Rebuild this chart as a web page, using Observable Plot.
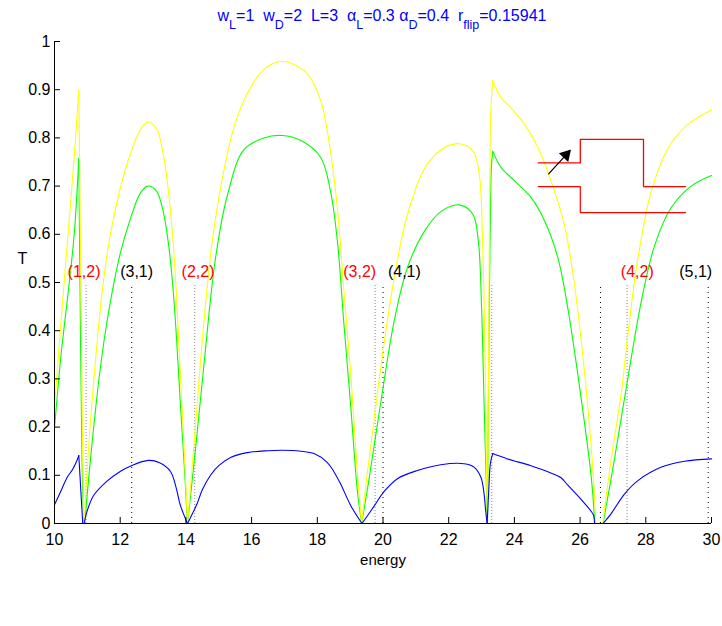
<!DOCTYPE html>
<html>
<head>
<meta charset="utf-8">
<script src="https://cdn.jsdelivr.net/npm/d3@7"></script>
<script src="https://cdn.jsdelivr.net/npm/@observablehq/plot@0.6"></script>
<style>
  html, body { margin: 0; padding: 0; background: #fff; }
  #chart { width: 722px; height: 626px; }
</style>
</head>
<body>
<div id="chart"></div>
<script>
// ---------- data (energy, T) ----------
const yellowSegs = [
  [[10,0.239],[10.2,0.42],[10.4,0.59],[10.6,0.76],[10.74,0.90]],
  [[10.74,0.90],[10.80,0.52],[10.85,0.2],[10.89,0]],
  [[10.9,0],[11.04,0.16],[11.2,0.3],[11.45,0.48],[11.7,0.6],[12.0,0.695],[12.3,0.765],[12.6,0.815],[12.84,0.833],
   [13.1,0.82],[13.3,0.77],[13.45,0.70],[13.58,0.61],[13.7,0.49],[13.83,0.31],[13.95,0.15],[14.05,0]],
  [[14.05,0],[14.3,0.21],[14.55,0.42],[14.8,0.585],[15.15,0.73],[15.56,0.843],[16.17,0.926],[16.6,0.953],[16.93,0.959],
   [17.3,0.952],[17.7,0.933],[18.1,0.878],[18.35,0.795],[18.61,0.656],[18.81,0.483],[19.02,0.31],[19.22,0.103],[19.35,0]],
  [[19.35,0],[19.52,0.103],[19.83,0.27],[20.13,0.42],[20.49,0.565],[20.74,0.64],[21.25,0.735],[21.76,0.775],[22.32,0.788],
   [22.73,0.774],[22.93,0.725],[23.03,0.587],[23.1,0.38],[23.15,0.103],[23.18,0]],
  [[23.18,0],[23.21,0.3],[23.25,0.7],[23.28,0.85],[23.34,0.919]],
  [[23.34,0.919],[23.59,0.884],[23.9,0.862],[24.3,0.829],[24.71,0.781],[25.11,0.712],[25.52,0.62],[25.82,0.5],
   [26.08,0.35],[26.28,0.207],[26.4,0.1],[26.48,0]],
  [[26.48,0],[26.69,0]],
  [[26.69,0],[26.94,0.131],[27.25,0.269],[27.45,0.39],[27.76,0.55],[28.17,0.69],[28.69,0.78],[29.3,0.829],[30,0.858]]
];
const greenSegs = [
  [[10,0.198],[10.2,0.35],[10.4,0.47],[10.6,0.60],[10.74,0.757]],
  [[10.74,0.757],[10.79,0.4],[10.84,0.12],[10.89,0]],
  [[10.92,0],[11.09,0.13],[11.39,0.32],[11.65,0.44],[12.0,0.56],[12.3,0.63],[12.61,0.685],[12.84,0.70],
   [13.1,0.69],[13.3,0.65],[13.45,0.59],[13.58,0.51],[13.7,0.40],[13.83,0.25],[13.95,0.12],[14.05,0]],
  [[14.05,0],[14.3,0.16],[14.55,0.33],[14.9,0.55],[15.26,0.68],[15.76,0.775],[16.37,0.80],[16.93,0.805],
   [17.49,0.795],[18.1,0.76],[18.4,0.69],[18.61,0.587],[18.81,0.414],[19.02,0.241],[19.22,0.068],[19.35,0]],
  [[19.35,0],[19.57,0.09],[19.93,0.25],[20.34,0.42],[20.74,0.53],[21.25,0.605],[21.76,0.647],
   [22.32,0.661],[22.73,0.642],[22.9,0.587],[23.0,0.449],[23.08,0.241],[23.18,0]],
  [[23.18,0],[23.22,0.35],[23.27,0.65],[23.3,0.74],[23.34,0.772]],
  [[23.34,0.772],[23.59,0.739],[23.99,0.712],[24.5,0.677],[24.91,0.629],[25.32,0.552],[25.62,0.449],[25.93,0.31],
   [26.15,0.2],[26.34,0.096],[26.45,0]],
  [[26.45,0],[26.7,0]],
  [[26.7,0],[27.04,0.131],[27.45,0.3],[27.86,0.46],[28.26,0.575],[28.77,0.655],[29.38,0.70],[30,0.722]]
];
const blueSegs = [
  [[10,0.039],[10.2,0.068],[10.38,0.095],[10.55,0.112],[10.68,0.13],[10.74,0.141]],
  [[10.74,0.141],[10.8,0.07],[10.86,0]],
  [[10.9,0],[10.99,0.025],[11.19,0.058],[11.6,0.088],[12.0,0.108],[12.34,0.12],[12.86,0.131],[13.2,0.126],
   [13.53,0.108],[13.7,0.075],[13.83,0.038],[14.05,0]],
  [[14.05,0],[14.34,0.041],[14.5,0.07],[14.75,0.1],[15.0,0.12],[15.36,0.137],[15.87,0.147],[16.5,0.151],
   [16.93,0.152],[17.5,0.15],[17.9,0.145],[18.3,0.127],[18.5,0.108],[18.71,0.082],[19.02,0.037],[19.36,0]],
  [[19.36,0],[19.73,0.036],[20.03,0.066],[20.44,0.093],[21.05,0.11],[21.76,0.122],[22.47,0.124],[22.77,0.117],
   [22.98,0.096],[23.08,0.06],[23.12,0.03],[23.17,0]],
  [[23.17,0],[23.22,0.07],[23.27,0.125],[23.34,0.145]],
  [[23.34,0.145],[23.79,0.134],[24.5,0.12],[25.11,0.105],[25.42,0.095],[25.62,0.08],[26.03,0.05],[26.34,0.025],
   [26.41,0.017],[26.44,0]],
  [[26.44,0],[26.7,0]],
  [[26.7,0],[26.94,0.02],[27.35,0.061],[27.76,0.089],[28.48,0.117],[29.18,0.129],[30,0.134]]
];

// subband thresholds (dotted markers) and their labels
const grayLines = [10.96, 14.27, 19.76, 23.31, 27.43];
const blackLines = [12.35, 20.0, 26.62, 29.9];
const markerTop = 0.497;
const redLabels = [["(1,2)",10.9],["(2,2)",14.37],["(3,2)",19.29],["(4,2)",27.74]];
const blackLabels = [["(3,1)",12.5],["(4,1)",20.65],["(5,1)",29.52]];
const labelT = 0.522;

// inset schematic (energy, T units)
const insetUpper = [[24.726,0.748],[26.006,0.748],[26.006,0.797],[27.93,0.797],[27.93,0.699],[29.21,0.699]];
const insetLower = [[24.726,0.699],[26.006,0.699],[26.006,0.645],[29.21,0.645]];
const arrowShaft = [[25.043,0.7255],[25.497,0.7591]];
const arrowHead = [[25.572,0.7647]];

const xTicks = [10,12,14,16,18,20,22,24,26,28,30];
const yTicks = [0,0.1,0.2,0.3,0.4,0.5,0.6,0.7,0.8,0.9,1];
const titleParts = [["w",0],["L",1],["=1  w",0],["D",1],["=2  L=3  α",0],["L",1],["=0.3 α",0],["D",1],["=0.4  r",0],["flip",1],["=0.15941",0]];

// ---------- build ----------
const rows = segs => segs.flatMap((s, i) => s.map(([E, T]) => ({E, T, seg: i})));
const pts = a => a.map(([E, T]) => ({E, T}));
const curve = "catmull-rom";

const plot = Plot.plot({
  width: 722, height: 626,
  marginLeft: 54, marginRight: 11, marginTop: 41, marginBottom: 103,
  x: {domain: [10, 30]},
  y: {domain: [0, 1]},
  style: {fontFamily: "'Liberation Sans', Arial, Helvetica, sans-serif", fontSize: "16px", background: "#fff", color: "#000"},
  marks: [
    Plot.ruleX(grayLines, {x: d => d, y1: 0, y2: markerTop, stroke: "#8a8a8a", strokeWidth: 1, strokeDasharray: "1,2"}),
    Plot.ruleX(blackLines, {x: d => d, y1: 0, y2: markerTop, stroke: "#000", strokeWidth: 1, strokeDasharray: "1,4"}),
    Plot.line(rows(greenSegs), {x: "E", y: "T", z: "seg", stroke: "#00ff00", strokeWidth: 1.1, curve}),
    Plot.line(rows(yellowSegs), {x: "E", y: "T", z: "seg", stroke: "#ffff00", strokeWidth: 1.1, curve}),
    Plot.line(rows(blueSegs), {x: "E", y: "T", z: "seg", stroke: "#0000ff", strokeWidth: 1.1, curve}),
    Plot.text(redLabels, {x: d => d[1], y: labelT, text: d => d[0], fill: "#ff0000", fontSize: 16, lineAnchor: "middle"}),
    Plot.text(blackLabels, {x: d => d[1], y: labelT, text: d => d[0], fill: "#000", fontSize: 16, lineAnchor: "middle"}),
    Plot.line(pts(insetUpper), {x: "E", y: "T", stroke: "#ff0000", strokeWidth: 1.3}),
    Plot.line(pts(insetLower), {x: "E", y: "T", stroke: "#ff0000", strokeWidth: 1.2}),
    Plot.line(pts(arrowShaft), {x: "E", y: "T", stroke: "#000", strokeWidth: 1.2}),
    Plot.dot(pts(arrowHead), {x: "E", y: "T", symbol: "triangle", r: 4.7, fill: "#000", stroke: "none", rotate: 42.6}),
    Plot.ruleX([10], {stroke: "#000"}),
    Plot.ruleY([0], {stroke: "#000"}),
    Plot.axisX({ticks: xTicks, tickSize: -6, tickPadding: 16, label: null, fontSize: 16, tickFormat: d3.format("~g")}),
    Plot.axisY({ticks: yTicks, tickSize: -6, tickPadding: 10, label: null, fontSize: 16, tickFormat: d3.format("~g")}),
    Plot.text(["energy"], {frameAnchor: "bottom", dy: 37, fontSize: 15, lineAnchor: "middle"}),
    Plot.text(["T"], {frameAnchor: "left", dx: -37, dy: -24, fontSize: 16, lineAnchor: "middle"})
  ]
});

// title with subscripts
const svg = d3.select(plot);
const title = svg.append("text")
  .attr("x", 382).attr("y", 21)
  .attr("text-anchor", "middle")
  .attr("fill", "#0000ff")
  .attr("font-size", 16)
  .attr("font-family", "'Liberation Sans', Arial, sans-serif")
  .style("white-space", "pre");
let shifted = false;
for (const [s, sub] of titleParts) {
  const ts = title.append("tspan").text(s);
  if (sub) { ts.attr("font-size", 12.5).attr("dy", shifted ? 0 : 8); shifted = true; }
  else { ts.attr("dy", shifted ? -8 : 0); shifted = false; }
}

document.getElementById("chart").appendChild(plot);
</script>
</body>
</html>
